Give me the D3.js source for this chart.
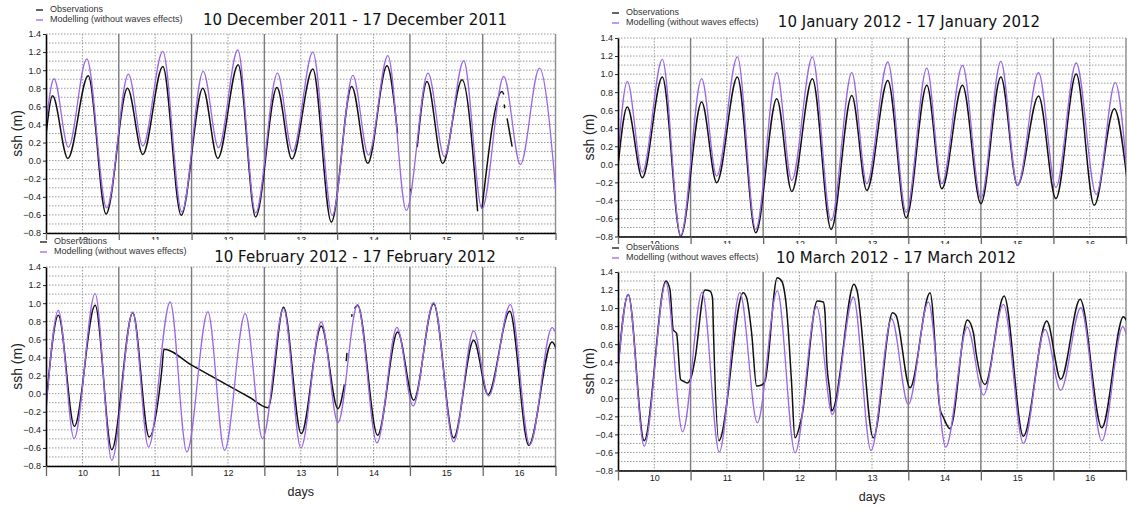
<!DOCTYPE html>
<html><head><meta charset="utf-8">
<script src="https://cdn.jsdelivr.net/npm/d3@7"></script>
<style>body{margin:0;background:#fff}svg{display:block}</style>
</head><body>
<svg id="c" width="1128" height="508"></svg>
<script>
// ---------- shared axis values ----------
const yTickValues = [-0.8, -0.6, -0.4, -0.2, 0.0, 0.2, 0.4, 0.6, 0.8, 1.0, 1.2, 1.4];
const dayLabels = [10, 11, 12, 13, 14, 15, 16];
const dayBounds = [9.5, 10.5, 11.5, 12.5, 13.5, 14.5, 15.5, 16.5];
const legendLabels = ["Observations", "Modelling (without waves effects)"];
const titles = ["10 December 2011 - 17 December 2011", "10 January 2012 - 17 January 2012",
                "10 February 2012 - 17 February 2012", "10 March 2012 - 17 March 2012"];

// ---------- December 2011 ----------
const decModelT = [9.50, 9.61, 9.807, 10.06, 10.334, 10.633, 10.83, 11.105, 11.366, 11.66, 11.87, 12.135, 12.38, 12.68, 12.887, 13.166, 13.433, 13.716, 13.93, 14.197, 14.45, 14.749, 14.973, 15.239, 15.49, 15.789, 16.018, 16.279, 16.51];
const decModelV = [0.40, 0.905, 0.147, 1.126, -0.522, 0.956, 0.162, 1.208, -0.567, 0.986, 0.143, 1.223, -0.578, 0.967, 0.099, 1.200, -0.604, 0.942, 0.062, 1.160, -0.550, 0.967, 0.043, 1.104, -0.530, 0.930, -0.043, 1.023, -0.39];
const decObsT = [9.50, 9.59, 9.80, 10.08, 10.325, 10.62, 10.83, 11.105, 11.357, 11.655, 11.86, 12.14, 12.38, 12.673, 12.878, 13.166, 13.42, 13.70, 13.92, 14.185, 14.33, null, 14.51, 14.52, null, 14.60, 14.735, 14.95, 15.217, 15.43, null, 15.49, 15.766, 15.789, null, 15.797, 15.80, null, 15.835, 15.904];
const decObsV = [0.28, 0.716, 0.025, 0.938, -0.589, 0.80, 0.069, 1.041, -0.604, 0.80, 0.025, 1.06, -0.622, 0.808, 0.017, 1.012, -0.678, 0.82, -0.03, 1.049, 0.30, null, -0.31, -0.35, null, 0.15, 0.875, -0.032, 0.893, -0.56, null, -0.53, 0.764, 0.73, null, 0.62, 0.58, null, 0.468, 0.154];

// ---------- January 2012 ----------
const janModelT = [9.49, 9.629, 9.835, 10.111, 10.364, 10.653, 10.86, 11.145, 11.398, 11.688, 11.894, 12.179, 12.437, 12.722, 12.928, 13.218, 13.471, 13.756, 13.962, 14.247, 14.50, 14.776, 15.005, 15.295, 15.534, 15.814, 16.09, 16.352, 16.513];
const janModelV = [-0.012, 0.92, -0.086, 1.163, -0.789, 0.949, -0.13, 1.19, -0.722, 1.016, -0.178, 1.19, -0.622, 1.016, -0.215, 1.134, -0.53, 1.067, -0.215, 1.097, -0.374, 1.141, -0.234, 1.016, -0.256, 1.123, -0.334, 0.905, -0.086];
const janObsT = [9.49, 9.629, 9.835, 10.111, 10.364, 10.653, 10.86, 11.145, 11.398, 11.688, 11.894, 12.179, 12.437, 12.722, 12.928, 13.218, 13.471, 13.756, 13.962, 14.247, 14.50, 14.776, 15.005, 15.295, 15.534, 15.814, 16.062, 16.338, 16.513];
const janObsV = [-0.10, 0.635, -0.149, 0.967, -0.796, 0.69, -0.204, 0.967, -0.759, 0.727, -0.30, 0.949, -0.722, 0.764, -0.29, 0.93, -0.593, 0.875, -0.27, 0.875, -0.437, 0.967, -0.234, 0.757, -0.38, 1.00, -0.455, 0.616, -0.16];

// ---------- February 2012 ----------
const febModelT = [9.501, 9.670, 9.886, 10.175, 10.404, 10.692, 10.908, 11.206, 11.435, 11.724, 11.953, 12.237, 12.475, 12.764, 13.002, 13.282, 13.511, 13.781, 14.047, 14.322, 14.542, 14.826, 15.101, 15.376, 15.582, 15.880, 16.146, 16.453, 16.513];
const febModelV = [-0.185, 0.92, -0.497, 1.105, -0.737, 0.90, -0.59, 1.013, -0.645, 0.903, -0.626, 0.884, -0.497, 0.94, -0.60, 0.792, -0.32, 0.984, -0.545, 0.733, -0.136, 1.006, -0.534, 0.693, -0.026, 0.984, -0.564, 0.73, 0.66];
const febObsT = [9.501, 9.67, 9.89, 10.175, 10.404, 10.692, 10.917, 11.09, 11.12, 11.50, 12.00, 12.30, 12.549, 12.764, 13.007, 13.282, 13.511, 13.60, null, 13.625, 13.635, null, 13.70, 13.705, null, 13.74, 13.781, 14.056, 14.331, 14.551, 14.826, 15.101, 15.376, 15.573, 15.871, 16.132, 16.453, 16.513];
const febObsV = [-0.12, 0.866, -0.361, 0.976, -0.619, 0.895, -0.479, 0.25, 0.49, 0.316, 0.092, -0.043, -0.155, 0.954, -0.442, 0.748, -0.166, 0.10, null, 0.36, 0.45, null, 0.85, 0.88, null, 0.94, 0.976, -0.46, 0.681, -0.074, 0.995, -0.49, 0.589, -0.011, 0.91, -0.571, 0.571, 0.49];

// ---------- March 2012 ----------
const marModelT = [9.49, 9.641, 9.861, 10.16, 10.39, 10.66, 10.895, 11.18, 11.42, 11.695, 11.94, 12.237, 12.453, 12.743, 12.986, 13.27, 13.50, 13.777, 14.016, 14.314, 14.535, 14.81, 15.086, 15.385, 15.60, 15.877, 16.167, 16.456, 16.51];
const marModelV = [0.21, 1.152, -0.53, 1.282, -0.371, 1.178, -0.596, 1.171, -0.271, 1.19, -0.604, 1.016, -0.178, 1.123, -0.578, 0.882, -0.068, 1.067, -0.541, 0.79, 0.036, 1.041, -0.50, 0.764, 0.088, 1.004, -0.471, 0.794, 0.69];
const marObsT = [9.49, 9.641, 9.861, 10.16, 10.215, 10.261, 10.307, 10.362, 10.399, 10.454, 10.514, 10.56, 10.698, 10.767, 10.803, 10.812, 10.89, 11.226, 11.272, 11.341, 11.41, 11.479, 11.525, 11.695, 11.755, 11.824, 11.892, 11.938, 12.03, 12.246, 12.329, 12.352, 12.375, 12.421, 12.444, 12.513, 12.559, 12.752, 12.789, 13.018, 13.285, 13.331, 13.524, 13.80, 13.937, 13.983, 14.075, 14.314, 14.397, 14.434, 14.558, 14.82, 15.086, 15.408, 15.601, 15.868, 16.167, 16.465, 16.51];
const marObsV = [0.25, 1.15, -0.47, 1.30, 1.21, 0.76, 0.72, 0.21, 0.19, 0.17, 0.25, 0.43, 1.20, 1.19, 1.11, 0.84, -0.47, 1.171, 1.115, 0.727, 0.136, 0.147, 0.19, 1.337, 1.30, 0.986, 0.17, -0.437, -0.215, 1.078, 1.067, 0.95, 0.43, 0.06, -0.14, 0.025, 0.28, 1.263, 1.21, -0.437, 0.949, 0.92, 0.117, 1.171, -0.12, -0.21, -0.337, 0.868, 0.727, 0.505, 0.154, 1.134, -0.42, 0.857, 0.21, 1.097, -0.326, 0.905, 0.857];

// ---------- drawing ----------
const purple = "#9a66e6";
const svg = d3.select("#c");
const fmt = d3.format(".1f");
let clipId = 0;

function zip(T, V) { return T.map((t, i) => ({ t: t, v: V[i] })); }

function drawPanel(p) {
  const x = d3.scaleLinear().domain([9.5, 16.5]).range([p.x0, p.x1]);
  const y = d3.scaleLinear().domain([-0.8, 1.4]).range([p.yBot, p.yTop]);
  const g = svg.append("g");

  g.append("g").selectAll("line").data(y.ticks(22)).join("line")
    .attr("x1", p.x0).attr("x2", p.x1)
    .attr("y1", d => y(d)).attr("y2", d => y(d))
    .attr("stroke", "#9a9a9a").attr("stroke-width", 1).attr("stroke-dasharray", "1.5,1.5");
  g.append("g").selectAll("line").data(dayLabels).join("line")
    .attr("x1", d => x(d)).attr("x2", d => x(d))
    .attr("y1", p.yTop).attr("y2", p.yBot)
    .attr("stroke", "#9a9a9a").attr("stroke-width", 1).attr("stroke-dasharray", "1.5,1.5");
  g.append("g").selectAll("line").data(dayBounds.slice(1, -1)).join("line")
    .attr("x1", d => x(d)).attr("x2", d => x(d))
    .attr("y1", p.yTop).attr("y2", p.yBot)
    .attr("stroke", "#7a7a7a").attr("stroke-width", 1.4);
  g.append("line").attr("x1", p.x1).attr("x2", p.x1).attr("y1", p.yTop).attr("y2", p.yBot)
    .attr("stroke", "#8a8a8a").attr("stroke-width", 1.4);

  const id = "clip" + (clipId++);
  svg.append("clipPath").attr("id", id).append("rect")
    .attr("x", p.x0).attr("y", p.yTop - 2).attr("width", p.x1 - p.x0).attr("height", p.yBot - p.yTop + 2);

  const line = d3.line()
    .defined(d => d.v !== null && d.t !== null)
    .x(d => x(d.t)).y(d => y(d.v))
    .curve(d3.curveMonotoneX);

  g.append("path").datum(zip(p.obsT, p.obsV))
    .attr("clip-path", "url(#" + id + ")")
    .attr("d", line).attr("fill", "none").attr("stroke", "#111").attr("stroke-width", 1.5);
  g.append("path").datum(zip(p.modT, p.modV))
    .attr("clip-path", "url(#" + id + ")")
    .attr("d", line).attr("fill", "none").attr("stroke", purple).attr("stroke-width", 1.3);

  const ax = g.append("g").attr("transform", `translate(${p.x0},0)`)
    .call(d3.axisLeft(y).tickValues(yTickValues).tickSize(3).tickSizeOuter(0).tickPadding(2).tickFormat(fmt));
  ax.select(".domain").attr("stroke", "#000").attr("stroke-width", 1.6);
  ax.selectAll(".tick line").attr("stroke", "#222");
  ax.selectAll("text").attr("font-family", "Liberation Sans, Arial, sans-serif").attr("font-size", 9).attr("fill", "#222");

  const bx = g.append("g").attr("transform", `translate(0,${p.yBot})`)
    .call(d3.axisBottom(x).tickValues(dayBounds).tickSize(10).tickSizeOuter(0).tickFormat(""));
  bx.select(".domain").attr("stroke", "#000").attr("stroke-width", 1.6);
  bx.selectAll(".tick line").attr("stroke", "#666").attr("stroke-width", 1.3);

  // day labels (top panels: partly hidden under the lower panel, as in the reference)
  const labClip = "lab" + (clipId++);
  svg.append("clipPath").attr("id", labClip).append("rect")
    .attr("x", p.x0 - 20).attr("y", p.yBot).attr("width", p.x1 - p.x0 + 40).attr("height", p.labClipH);
  const lx = g.append("g").attr("clip-path", "url(#" + labClip + ")")
    .append("g").attr("transform", `translate(0,${p.yBot})`)
    .call(d3.axisBottom(x).tickValues(dayLabels).tickSize(0).tickPadding(4).tickFormat(d3.format("d")));
  lx.select(".domain").remove();
  lx.selectAll("text").attr("font-family", "Liberation Sans, Arial, sans-serif").attr("font-size", 9).attr("fill", "#222");

  g.append("text").attr("transform", `translate(${p.yLabX},${(p.yTop + p.yBot) / 2}) rotate(-90)`)
    .attr("text-anchor", "middle").attr("dominant-baseline", "middle")
    .attr("font-family", "Liberation Sans, Arial, sans-serif").attr("font-size", 14).attr("fill", "#222")
    .text("ssh (m)");
  if (p.daysY) {
    g.append("text").attr("x", (p.x0 + p.x1) / 2).attr("y", p.daysY)
      .attr("text-anchor", "middle").attr("dominant-baseline", "middle")
      .attr("font-family", "Liberation Sans, Arial, sans-serif").attr("font-size", 12.5).attr("fill", "#222")
      .text("days");
  }
  g.append("text").attr("x", p.titleX).attr("y", p.titleY).attr("text-anchor", "middle")
    .attr("font-family", "DejaVu Sans, sans-serif").attr("font-size", 15).attr("fill", "#111")
    .text(p.title);
  const leg = g.append("g").attr("transform", `translate(${p.legX},${p.legY})`);
  leg.selectAll("line").data(legendLabels).join("line")
    .attr("x1", 0).attr("x2", 7).attr("y1", (d, i) => i * 10).attr("y2", (d, i) => i * 10)
    .attr("stroke", (d, i) => i === 0 ? "#111" : purple).attr("stroke-width", 1.3);
  leg.selectAll("text").data(legendLabels).join("text")
    .attr("x", 14).attr("y", (d, i) => i * 10).attr("dominant-baseline", "middle")
    .attr("font-family", "Liberation Sans, Arial, sans-serif").attr("font-size", 9).attr("fill", "#333")
    .text(d => d);
}

drawPanel({ x0: 46, x1: 555.5, yTop: 34, yBot: 233, title: titles[0], titleX: 355, titleY: 25,
  legX: 36, legY: 10, yLabX: 18, daysY: null, labClipH: 7,
  modT: decModelT, modV: decModelV, obsT: decObsT, obsV: decObsV });
drawPanel({ x0: 618, x1: 1126, yTop: 38, yBot: 236.5, title: titles[1], titleX: 909, titleY: 27,
  legX: 612, legY: 13, yLabX: 590, daysY: null, labClipH: 7.5,
  modT: janModelT, modV: janModelV, obsT: janObsT, obsV: janObsV });

// lower panels sit over the upper panels' day labels
svg.append("rect").attr("x", 0).attr("y", 240).attr("width", 562).attr("height", 268).attr("fill", "#fff");
svg.append("rect").attr("x", 562).attr("y", 244).attr("width", 566).attr("height", 264).attr("fill", "#fff");

drawPanel({ x0: 46, x1: 555.5, yTop: 267, yBot: 466, title: titles[2], titleX: 355, titleY: 262,
  legX: 40, legY: 242, yLabX: 18, daysY: 493, labClipH: 20,
  modT: febModelT, modV: febModelV, obsT: febObsT, obsV: febObsV });
drawPanel({ x0: 618, x1: 1126, yTop: 272, yBot: 470.5, title: titles[3], titleX: 896, titleY: 263,
  legX: 612, legY: 248, yLabX: 590, daysY: 498, labClipH: 20,
  modT: marModelT, modV: marModelV, obsT: marObsT, obsV: marObsV });
</script>
</body></html>
